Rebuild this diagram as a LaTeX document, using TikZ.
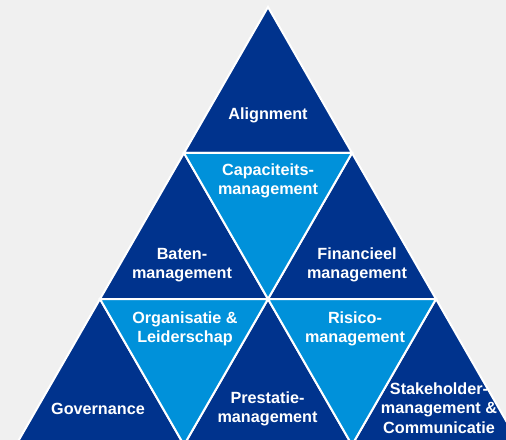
\documentclass[tikz,border=0pt]{standalone}
\usepackage{fontspec}
\setmainfont{Liberation Sans}
\usepackage{xcolor}
\usepackage{tikz}

\definecolor{kpmgdark}{HTML}{00338D}
\definecolor{kpmglight}{HTML}{0091DA}
\definecolor{pagegray}{HTML}{F0F0F0}

\begin{document}
\begin{tikzpicture}[x=1bp, y=-1bp,
  darktri/.style={fill=kpmgdark, draw=white, line width=2bp},
  lighttri/.style={fill=kpmglight, draw=white, line width=2bp},
  lbl/.style={text=white, font=\bfseries\fontsize{16.2bp}{19.5bp}\selectfont, align=center, inner sep=0pt}]
\useasboundingbox (0,0) rectangle (506,440);
\clip (0,0) rectangle (506,440);
\fill [pagegray] (0,0) rectangle (506,440);

\coordinate (a) at (268,7);
\coordinate (b1) at (184,153);
\coordinate (b2) at (352,153);
\coordinate (c1) at (100,299);
\coordinate (c2) at (268,299);
\coordinate (c3) at (436,299);
\coordinate (d1) at (16,445);
\coordinate (d2) at (184,445);
\coordinate (d3) at (352,445);
\coordinate (d4) at (520,445);

\filldraw [darktri] (a) -- (b1) -- (b2) -- cycle;
\filldraw [darktri] (b1) -- (c1) -- (c2) -- cycle;
\filldraw [darktri] (b2) -- (c2) -- (c3) -- cycle;
\filldraw [darktri] (c1) -- (d1) -- (d2) -- cycle;
\filldraw [darktri] (c2) -- (d2) -- (d3) -- cycle;
\filldraw [darktri] (c3) -- (d3) -- (d4) -- cycle;

\filldraw [lighttri] (b1) -- (b2) -- (c2) -- cycle;
\filldraw [lighttri] (c1) -- (c2) -- (d2) -- cycle;
\filldraw [lighttri] (c2) -- (c3) -- (d3) -- cycle;

\node (align) at (268,115.5) [lbl] {Alignment};
\node (capac) at (268,181) [lbl] {Capaciteits-\\management};
\node (baten) at (182,265) [lbl] {Baten-\\management};
\node (financ) at (357,265) [lbl] {Financieel\\management};
\node (organ) at (185,329) [lbl] {Organisatie \&\\Leiderschap};
\node (risico) at (355,329) [lbl] {Risico-\\management};
\node (gov) at (98,409) [lbl] {Governance};
\node (prest) at (267.5,409) [lbl] {Prestatie-\\management};
\node (stake) at (439,408) [lbl] {Stakeholder-\\management \&\\Communicatie};

\end{tikzpicture}
\end{document}
